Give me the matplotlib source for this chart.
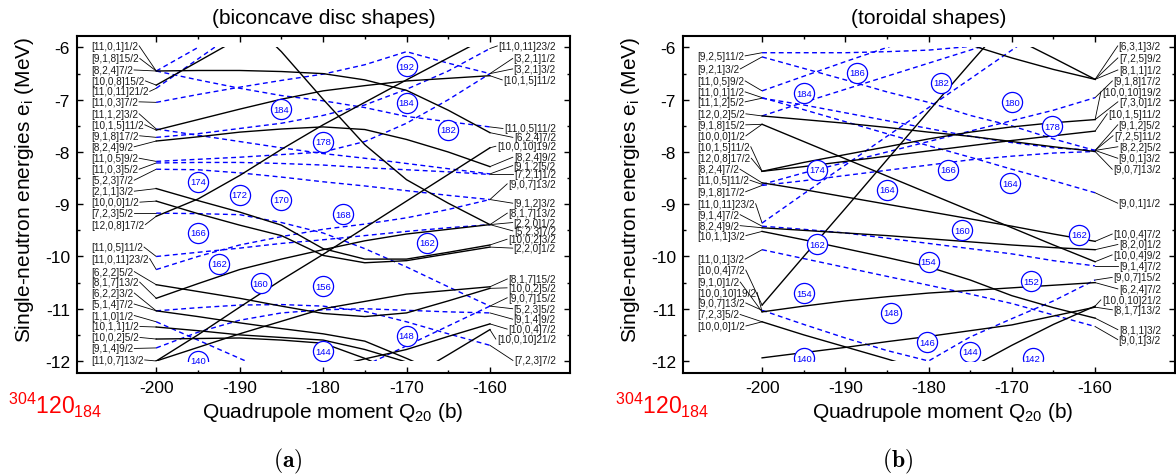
import numpy as np
import matplotlib.pyplot as plt
from matplotlib.patches import Rectangle
from matplotlib.ticker import FixedLocator

plt.rcParams['font.family'] = ['Liberation Sans', 'DejaVu Sans']
plt.rcParams['mathtext.fontset'] = 'custom'
plt.rcParams['mathtext.rm'] = 'Liberation Sans'
plt.rcParams['mathtext.it'] = 'Liberation Sans:italic'
plt.rcParams['axes.unicode_minus'] = False

nan = np.nan

# quadrupole moment grid (b)
q = [-200, -195, -190, -185, -180, -175, -170, -165, -160]

# ---------------- (a) biconcave disc shapes ----------------
disc_solid = [
    [-6.45, -6.44, -6.44, -6.46, -6.50, -6.62, -6.82, -7.20, -7.63],
    [-6.72, -6.27, -5.82, nan, nan, nan, nan, nan, nan],
    [-7.58, -7.38, -7.18, -6.99, -6.83, -6.73, -6.64, -6.59, -6.54],
    [-7.79, -7.71, -7.62, -7.56, -7.52, -7.57, -7.76, -8.00, -8.28],
    [nan, nan, -5.30, -6.08, -6.99, -7.86, -8.53, -8.98, -9.39],
    [-9.23, -8.90, -8.45, -7.95, -7.48, -7.05, -6.62, -6.20, -5.78],
    [-8.70, -8.93, -9.15, -9.40, -9.85, -10.05, -10.05, -9.92, -9.78],
    [-8.94, -9.18, -9.40, -9.60, -9.98, -10.12, -10.08, -9.95, -9.82],
    [-10.80, -10.52, -10.25, -10.05, -9.87, -9.70, -9.57, -9.48, -9.39],
    [-10.54, -10.67, -10.80, -10.95, -11.09, -11.15, -11.08, -10.85, -10.61],
    [-12.00, -11.50, -10.97, -10.45, -9.96, -9.45, -8.94, -8.43, -7.92],
    [-12.00, -11.74, -11.48, -11.24, -11.00, -10.86, -10.72, -10.65, -10.58],
    [-11.04, -11.15, -11.27, -11.38, -11.48, -11.62, -11.95, -12.30, nan],
    [-11.35, -11.42, -11.50, -11.55, -11.60, -11.78, -12.02, -12.30, nan],
    [-11.58, -11.57, -11.56, -11.60, -11.66, -11.95, -12.30, nan, nan],
    [nan, nan, nan, nan, -12.15, -11.96, -11.78, -11.53, -11.29],
    [nan, nan, nan, nan, nan, nan, -12.35, -11.88, -11.40],
]
disc_dashed = [
    [-6.45, -6.00, -5.55, nan, nan, nan, nan, nan, nan],
    [-6.78, -6.22, -5.66, nan, nan, nan, nan, nan, nan],
    [-6.45, -6.62, -6.78, -6.92, -7.02, -7.15, -7.32, -7.42, -7.52],
    [-7.05, -6.90, -6.76, -6.63, -6.51, -6.33, -6.08, -6.30, -6.50],
    [-7.56, -7.68, -7.80, -7.92, -8.03, -8.12, -8.22, -8.32, -8.42],
    [-7.72, -7.65, -7.55, -7.45, -7.30, -7.10, -6.80, -6.45, -6.02],
    [-8.18, -8.14, -8.10, -8.05, -8.00, -7.80, -7.45, -7.00, -6.50],
    [-8.21, -8.20, -8.20, -8.22, -8.25, -8.30, -8.34, -8.38, -8.43],
    [-8.33, -8.34, -8.40, -8.48, -8.57, -8.65, -8.74, -8.83, -8.91],
    [-9.17, -9.18, -9.20, -9.35, -9.55, -9.85, -10.20, -10.58, -10.95],
    [-10.00, -9.92, -9.84, -9.75, -9.68, -9.60, -9.52, -9.45, -9.39],
    [-10.25, -10.00, -9.78, -9.62, -9.48, -9.38, -9.26, -9.10, -8.91],
    [-11.04, -10.98, -10.93, -10.92, -10.95, -11.05, -11.25, -11.48, -11.70],
    [-11.25, -11.60, -11.95, -12.30, nan, nan, nan, nan, nan],
    [-11.75, -11.45, -11.22, -11.08, -11.02, -11.00, -11.03, -11.06, -11.08],
    [nan, nan, nan, nan, nan, -12.09, -11.71, -11.33, -10.95],
]
disc_left_names = [
    '[11,0,1]1/2', '[9,1,8]15/2', '[8,2,4]7/2', '[10,0,8]15/2', '[11,0,11]21/2',
    '[11,0,3]7/2', '[11,1,2]3/2', '[10,1,5]11/2', '[9,1,8]17/2', '[8,2,4]9/2',
    '[11,0,5]9/2', '[11,0,3]5/2', '[5,2,3]7/2', '[2,1,1]3/2', '[10,0,0]1/2',
    '[7,2,3]5/2', '[12,0,8]17/2', '[11,0,5]11/2', '[11,0,11]23/2', '[6,2,2]5/2',
    '[8,1,7]13/2', '[6,2,2]3/2', '[5,1,4]7/2', '[1,1,0]1/2', '[10,1,1]1/2',
    '[10,0,2]5/2', '[9,1,4]9/2', '[11,0,7]13/2',
]
disc_left_y = [
    -5.97, -6.21, -6.43, -6.64, -6.84, -7.04, -7.27, -7.48, -7.69, -7.90,
    -8.12, -8.33, -8.54, -8.75, -8.96, -9.17, -9.39, -9.82, -10.04, -10.29,
    -10.49, -10.70, -10.91, -11.13, -11.34, -11.55, -11.76, -11.98,
]
disc_left_end = [
    -6.45, -6.45, -6.45, -6.72, -6.78, -7.05, -7.56, -7.58, -7.72, -7.79,
    -8.18, -8.21, -8.33, -8.70, -8.94, -9.17, -9.23, -10.00, -10.25, -10.54,
    -10.80, -11.04, -11.04, -11.25, -11.35, -11.58, -11.75, -12.00,
]
disc_right_names = [
    '[11,0,11]23/2', '[3,2,1]1/2', '[3,2,1]3/2', '[10,1,5]11/2', '[11,0,5]11/2',
    '[6,2,4]7/2', '[10,0,10]19/2', '[8,2,4]9/2', '[9,1,2]5/2', '[7,2,1]1/2',
    '[9,0,7]13/2', '[9,1,2]3/2', '[8,1,7]13/2', '[2,2,0]1/2', '[5,2,3]7/2',
    '[10,0,2]3/2', '[2,2,0]1/2', '[8,1,7]15/2', '[10,0,2]5/2', '[9,0,7]15/2',
    '[5,2,3]5/2', '[9,1,4]9/2', '[10,0,4]7/2', '[10,0,10]21/2', '[7,2,3]7/2',
]
disc_right_y = [
    -5.97, -6.21, -6.41, -6.62, -7.55, -7.72, -7.89, -8.10, -8.26, -8.43,
    -8.61, -8.98, -9.17, -9.35, -9.51, -9.67, -9.84, -10.43, -10.60, -10.79,
    -11.00, -11.20, -11.39, -11.58, -11.99,
]
disc_right_end = [
    -6.02, -6.50, -6.50, -6.54, -7.52, -7.63, -7.92, -8.28, -8.42, -8.43,
    -8.91, -8.91, -9.39, -9.39, -9.39, -9.78, -9.82, -10.58, -10.61, -10.95,
    -10.95, -11.08, -11.29, -11.40, -11.70,
]
disc_gap_n = [192, 184, 184, 178, 182, 174, 172, 170, 168, 166, 162, 162, 160, 156, 148, 144, 140]
disc_gap_q = [-170, -185, -170, -180, -165, -195, -190, -185, -177.6, -195, -192.5, -167.5,
              -187.5, -180, -170, -180, -195]
disc_gap_e = [-6.36, -7.18, -7.06, -7.80, -7.57, -8.57, -8.82, -8.91, -9.19, -9.55, -10.14,
              -9.74, -10.51, -10.57, -11.52, -11.81, -12.00]

# ---------------- (b) toroidal shapes ----------------
torus_solid = [
    [-7.31, -7.38, -7.45, -7.53, -7.62, -7.70, -7.80, -7.90, -7.99],
    [-7.47, -7.80, -8.13, -8.46, -8.79, -9.12, -9.45, -9.78, -10.10],
    [-8.37, -8.28, -8.18, -8.08, -7.98, -7.88, -7.78, -7.69, -7.60],
    [-8.37, -8.20, -8.05, -7.90, -7.75, -7.62, -7.52, -7.44, -7.38],
    [-8.59, -8.72, -8.86, -9.00, -9.14, -9.28, -9.42, -9.57, -9.71],
    [-9.45, -9.50, -9.55, -9.60, -9.66, -9.72, -9.78, -9.83, -9.87],
    [-9.52, -9.68, -9.85, -10.02, -10.20, -10.45, -10.75, -10.98, -11.18],
    [-10.93, -10.00, -9.08, -8.15, -7.22, -6.30, -5.40, nan, nan],
    [-11.06, -10.95, -10.85, -10.77, -10.70, -10.65, -10.60, -10.55, -10.50],
    [-11.25, -11.50, -11.73, -11.96, -12.20, nan, nan, nan, nan],
    [-11.94, -11.84, -11.74, -11.63, -11.53, -11.42, -11.31, -11.14, -10.97],
    [nan, nan, nan, nan, nan, -12.13, -11.70, -11.30, -10.95],
    [nan, nan, nan, nan, -5.70, -5.95, -6.20, -6.42, -6.61],
    [nan, nan, nan, nan, nan, nan, -5.80, -6.20, -6.61],
]
torus_dashed = [
    [-6.10, -6.10, -6.10, -6.08, -6.05, -5.98, -5.90, nan, nan],
    [-6.18, -6.40, -6.62, -6.85, -7.05, -7.30, -7.50, -7.75, -7.97],
    [-6.83, -6.55, -6.27, -6.00, -5.72, nan, nan, nan, nan],
    [-6.96, -7.19, -7.42, -7.65, -7.88, -8.10, -8.33, -8.55, -8.78],
    [-6.97, -7.10, -7.25, -7.40, -7.55, -7.70, -7.82, -7.92, -7.97],
    [-7.31, -7.05, -6.80, -6.55, -6.30, -6.05, -5.80, nan, nan],
    [-8.62, -8.40, -8.20, -8.00, -7.80, -7.60, -7.40, -7.20, -6.96],
    [-8.64, -8.55, -8.45, -8.35, -8.25, -8.15, -8.08, -8.02, -7.99],
    [-9.36, -8.80, -8.25, -7.70, -7.15, -6.60, -6.05, -5.50, nan],
    [-9.42, -9.48, -9.55, -9.65, -9.75, -9.85, -9.95, -10.08, -10.18],
    [-9.87, -10.04, -10.21, -10.38, -10.55, -10.72, -10.90, -11.12, -11.34],
    [-11.03, -11.30, -11.56, -11.80, -12.00, -11.54, -11.19, -10.85, -10.45],
]
torus_left_names = [
    '[9,2,5]11/2', '[9,2,1]3/2', '[11,0,5]9/2', '[11,0,1]1/2', '[11,1,2]5/2',
    '[12,0,2]5/2', '[9,1,8]15/2', '[10,0,0]1/2', '[10,1,5]11/2', '[12,0,8]17/2',
    '[8,2,4]7/2', '[11,0,5]11/2', '[9,1,8]17/2', '[11,0,11]23/2', '[9,1,4]7/2',
    '[8,2,4]9/2', '[10,1,1]3/2', '[11,0,1]3/2', '[10,0,4]7/2', '[9,1,0]1/2',
    '[10,0,10]19/2', '[9,0,7]13/2', '[7,2,3]5/2', '[10,0,0]1/2',
]
torus_left_y = [
    -6.16, -6.41, -6.64, -6.85, -7.04, -7.27, -7.48, -7.69, -7.90, -8.12,
    -8.33, -8.54, -8.76, -8.99, -9.20, -9.41, -9.60, -10.05, -10.26, -10.49,
    -10.69, -10.89, -11.11, -11.33,
]
torus_left_end = [
    -6.10, -6.18, -6.83, -6.96, -6.97, -7.31, -7.47, -7.47, -8.37, -8.37,
    -8.59, -8.62, -8.64, -9.36, -9.42, -9.45, -9.52, -9.87, -10.93, -11.06,
    -11.06, -11.03, -11.25, -11.25,
]
torus_right_names = [
    '[6,3,1]3/2', '[7,2,5]9/2', '[8,1,1]1/2', '[9,1,8]17/2', '[10,0,10]19/2',
    '[7,3,0]1/2', '[10,1,5]11/2', '[9,1,2]5/2', '[7,2,5]11/2', '[8,2,2]5/2',
    '[9,0,1]3/2', '[9,0,7]13/2', '[9,0,1]1/2', '[10,0,4]7/2', '[8,2,0]1/2',
    '[10,0,4]9/2', '[9,1,4]7/2', '[9,0,7]15/2', '[6,2,4]7/2', '[10,0,10]21/2',
    '[8,1,7]13/2', '[8,1,1]3/2', '[9,0,1]3/2',
]
torus_right_y = [
    -5.97, -6.20, -6.43, -6.64, -6.85, -7.04, -7.27, -7.48, -7.69, -7.90,
    -8.12, -8.33, -8.98, -9.57, -9.77, -9.97, -10.18, -10.40, -10.62, -10.83,
    -11.02, -11.40, -11.59,
]
torus_right_end = [
    -6.61, -6.61, -6.61, -6.96, -7.38, -7.38, -7.60, -7.97, -7.97, -7.97,
    -7.97, -7.99, -8.78, -9.71, -9.87, -10.10, -10.18, -10.45, -10.50, -10.95,
    -10.97, -11.18, -11.34,
]
torus_gap_n = [184, 186, 182, 180, 178, 174, 166, 164, 164, 162, 162, 160, 154, 154, 152,
               148, 146, 144, 142, 140]
torus_gap_q = [-195, -188.6, -178.5, -170, -165.2, -193.4, -177.7, -185, -170.2, -193.4,
               -161.9, -176, -195, -180, -167.7, -184.5, -180.2, -175, -167.5, -195]
torus_gap_e = [-6.88, -6.48, -6.67, -7.05, -7.51, -8.34, -8.34, -8.72, -8.60, -9.77,
               -9.58, -9.50, -10.70, -10.10, -10.47, -11.08, -11.64, -11.82, -11.95, -11.95]

LABEL_SIZE = 7.2


def draw_panel(ax, solid, dashed, gn, gq, ge):
    ax.set_xlim(-209.5, -150.4)
    ax.set_ylim(-12.23, -5.78)
    # levels are only drawn inside the computed window
    box = Rectangle((-201, -12), 42, 6, transform=ax.transData)

    for e in solid:
        ln, = ax.plot(q, e, color='black', lw=1.0, zorder=3)
        ln.set_clip_path(box)
    for e in dashed:
        ln, = ax.plot(q, e, color='#0000ff', lw=1.0, ls=(0, (3.5, 2.5)), zorder=2)
        ln.set_clip_path(box)

    # shell gaps
    mk, = ax.plot(gq, ge, 'o', ms=14.5, mfc='white', mec='#0000ff', mew=0.9, zorder=4)
    mk.set_clip_path(box)
    for n, x, y in zip(gn, gq, ge):
        t = ax.text(x, y, str(n), color='#0000ff', fontsize=6.8, ha='center', va='center', zorder=5)
        t.set_clip_path(box)


def draw_labels(ax, lnames, ly, lend, rnames, ry, rend):
    rr = ax.figure.canvas.get_renderer()
    inv = ax.transData.inverted()
    px = 59.1 / 493.0  # data units per pixel along x
    for name, y, e in zip(lnames, ly, lend):
        t = ax.text(-207.8, y, name, fontsize=LABEL_SIZE, ha='left', va='center', color='#1a1a1a')
        bb = t.get_window_extent(renderer=rr)
        x0 = inv.transform((bb.x1, bb.y0))[0] + px
        ax.plot([x0, -200], [y, e], color='black', lw=0.6, clip_on=False, zorder=1)
    for name, y, e in zip(rnames, ry, rend):
        t = ax.text(-152.1, y, name, fontsize=LABEL_SIZE, ha='right', va='center', color='#1a1a1a')
        bb = t.get_window_extent(renderer=rr)
        x1 = inv.transform((bb.x0, bb.y0))[0] - px
        ax.plot([-160, x1], [e, y], color='black', lw=0.6, clip_on=False, zorder=1)


fig = plt.figure(figsize=(11.76, 4.77), dpi=100)
ax_a = fig.add_axes([77 / 1176, 103 / 477, 493 / 1176, 337 / 477])
ax_b = fig.add_axes([683 / 1176, 103 / 477, 492 / 1176, 337 / 477])

draw_panel(ax_a, disc_solid, disc_dashed, disc_gap_n, disc_gap_q, disc_gap_e)
draw_labels(ax_a, disc_left_names, disc_left_y, disc_left_end,
            disc_right_names, disc_right_y, disc_right_end)
draw_panel(ax_b, torus_solid, torus_dashed, torus_gap_n, torus_gap_q, torus_gap_e)
draw_labels(ax_b, torus_left_names, torus_left_y, torus_left_end,
            torus_right_names, torus_right_y, torus_right_end)

for ax, title, cx in [(ax_a, '(biconcave disc shapes)', 333), (ax_b, '(toroidal shapes)', 943)]:
    ax.xaxis.set_major_locator(FixedLocator([-200, -190, -180, -170, -160]))
    ax.xaxis.set_minor_locator(FixedLocator([-195, -185, -175, -165]))
    ax.yaxis.set_major_locator(FixedLocator([-12, -11, -10, -9, -8, -7, -6]))
    ax.yaxis.set_minor_locator(FixedLocator([-11.5, -10.5, -9.5, -8.5, -7.5, -6.5]))
    ax.tick_params(which='both', direction='in', top=True, right=True, width=1.0)
    ax.tick_params(which='major', length=4.5, labelsize=12.5, pad=5)
    ax.tick_params(which='minor', length=2.5)
    for s in ax.spines.values():
        s.set_linewidth(1.5)
    ax.text(0.5, 1 + 19 / 337, title, transform=ax.transAxes, ha='center', va='center', fontsize=15)
    fig.text(cx / 1176, 1 - 413 / 477, r'Quadrupole moment Q$_{20}$ (b)', ha='center', va='center',
             fontsize=15)

for x in [25, 631]:
    fig.text(x / 1176, 1 - 190 / 477, r'Single-neutron energies e$_\mathrm{i}$ (MeV)', rotation=90,
             ha='center', va='center', fontsize=15)

for x in [8, 615]:
    fig.text(x / 1176, 1 - 405 / 477, r'$^{304}$120$_{184}$', color='red', ha='left', va='center',
             fontsize=16.5)

fig.text(288 / 1176, 1 - 461 / 477, r'$\mathbf{(a)}$', math_fontfamily='cm', ha='center',
         va='center', fontsize=17)
fig.text(898 / 1176, 1 - 461 / 477, r'$\mathbf{(b)}$', math_fontfamily='cm', ha='center',
         va='center', fontsize=17)

fig.savefig('out.png', dpi=100)
